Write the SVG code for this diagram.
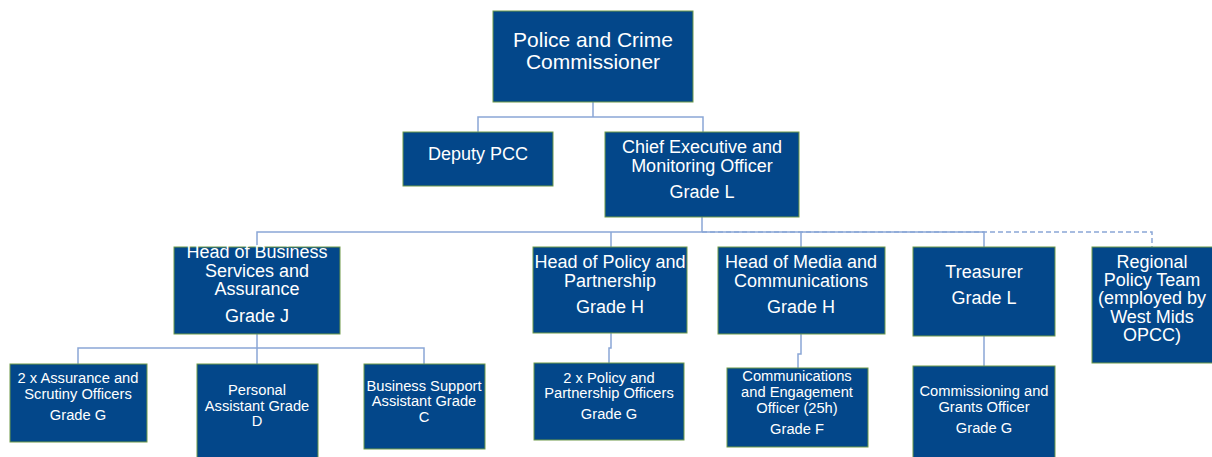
<svg xmlns="http://www.w3.org/2000/svg" width="1212" height="457" viewBox="0 0 1212 457">
<style>
.box{fill:#03478A;stroke:#6E9A48;stroke-width:1}
.t{fill:#FFFFFF;font-family:"Liberation Sans",Arial,sans-serif;text-anchor:middle}
.l{font-size:21px}
.m{font-size:18px}
.s{font-size:14.7px}
.c{fill:none;stroke:#8AA6D6;stroke-width:1.5}
.d{fill:none;stroke:#8AA6D6;stroke-width:1.5;stroke-dasharray:5 3}
</style>
<rect width="1212" height="457" fill="#FFFFFF"/>
<g id="connectors">
<path class="c" d="M593 102V117M478 132V117H703V132"/>
<path class="c" d="M702 217V232M257 247V232H984V247"/>
<path class="c" d="M611 232V247M801 232V247"/>
<path class="d" d="M702 232H1152V247"/>
<path class="c" d="M257 334V364M78 364V348H424V364"/>
<path class="c" d="M611 333V348H609V363"/>
<path class="c" d="M801 334V354H798V368"/>
<path class="c" d="M984 336V366"/>
</g>
<g id="pcc"><rect class="box" x="493" y="11" width="200" height="91"/>
<text class="t l" x="593" y="47">Police and Crime</text><text class="t l" x="593" y="69">Commissioner</text></g>
<g id="deputy"><rect class="box" x="403" y="132" width="150" height="54"/>
<text class="t m" x="478" y="160">Deputy PCC</text></g>
<g id="chief"><rect class="box" x="605" y="132" width="194" height="85"/>
<text class="t m" x="702" y="153">Chief Executive and</text><text class="t m" x="702" y="172">Monitoring Officer</text><text class="t m" x="702" y="198">Grade L</text></g>
<g id="head-business"><rect class="box" x="174" y="247" width="166" height="87"/>
<text class="t m" x="257" y="258">Head of Business</text><text class="t m" x="257" y="277">Services and</text><text class="t m" x="257" y="295">Assurance</text><text class="t m" x="257" y="322">Grade J</text></g>
<g id="assurance-officers"><rect class="box" x="10" y="364" width="137" height="78"/>
<text class="t s" x="78" y="383">2 x Assurance and</text><text class="t s" x="78" y="399">Scrutiny Officers</text><text class="t s" x="78" y="420">Grade G</text></g>
<g id="personal-assistant"><rect class="box" x="197" y="364" width="121" height="100"/>
<text class="t s" x="257" y="395">Personal</text><text class="t s" x="257" y="411">Assistant Grade</text><text class="t s" x="257" y="426">D</text></g>
<g id="business-support"><rect class="box" x="364" y="364" width="121" height="85"/>
<text class="t s" x="424" y="391">Business Support</text><text class="t s" x="424" y="406">Assistant Grade</text><text class="t s" x="424" y="422">C</text></g>
<g id="head-policy"><rect class="box" x="533" y="247" width="154" height="86"/>
<text class="t m" x="610" y="268">Head of Policy and</text><text class="t m" x="610" y="287">Partnership</text><text class="t m" x="610" y="313">Grade H</text></g>
<g id="policy-officers"><rect class="box" x="534" y="363" width="150" height="77"/>
<text class="t s" x="609" y="383">2 x Policy and</text><text class="t s" x="609" y="398">Partnership Officers</text><text class="t s" x="609" y="419">Grade G</text></g>
<g id="head-media"><rect class="box" x="718" y="247" width="167" height="87"/>
<text class="t m" x="801" y="268">Head of Media and</text><text class="t m" x="801" y="287">Communications</text><text class="t m" x="801" y="313">Grade H</text></g>
<g id="comms-officer"><rect class="box" x="727" y="368" width="141" height="79"/>
<text class="t s" x="797" y="381">Communications</text><text class="t s" x="797" y="397">and Engagement</text><text class="t s" x="797" y="413">Officer (25h)</text><text class="t s" x="797" y="434">Grade F</text></g>
<g id="treasurer"><rect class="box" x="913" y="247" width="142" height="89"/>
<text class="t m" x="984" y="278">Treasurer</text><text class="t m" x="984" y="304">Grade L</text></g>
<g id="commissioning"><rect class="box" x="913" y="366" width="142" height="100"/>
<text class="t s" x="984" y="396">Commissioning and</text><text class="t s" x="984" y="412">Grants Officer</text><text class="t s" x="984" y="433">Grade G</text></g>
<g id="regional"><rect class="box" x="1092" y="247" width="125" height="116"/>
<text class="t m" x="1152" y="268">Regional</text><text class="t m" x="1152" y="286">Policy Team</text><text class="t m" x="1152" y="304">(employed by</text><text class="t m" x="1152" y="323">West Mids</text><text class="t m" x="1152" y="341">OPCC)</text></g>
</svg>
